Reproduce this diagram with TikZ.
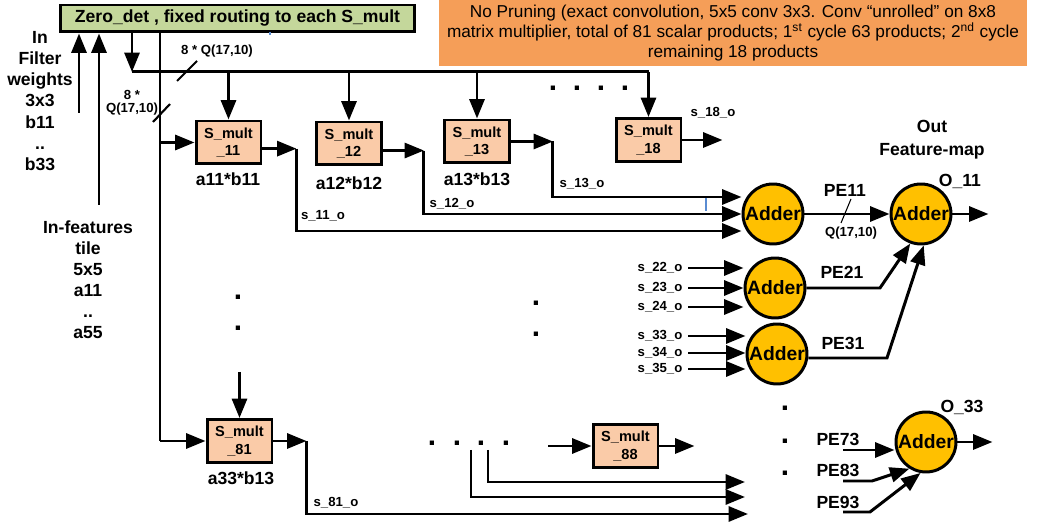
\documentclass[tikz,border=0pt]{standalone}
\usepackage{fontspec}
\setmainfont{Liberation Sans}
\usepackage{tikz}
\usetikzlibrary{positioning}
\usetikzlibrary{arrows.meta,shapes}
\usetikzlibrary{calc}

\definecolor{detgreen}{RGB}{196,215,155}
\definecolor{noteorange}{RGB}{245,158,88}
\definecolor{multpeach}{RGB}{250,203,168}
\definecolor{addergold}{RGB}{255,192,0}
\definecolor{strayblue}{RGB}{90,140,210}

\begin{document}
\begin{tikzpicture}[x=0.02cm,y=-0.02cm,
  wire/.style={line width=1.7pt},
  arr/.style={line width=1.7pt,-{Triangle[length=11pt,width=8.5pt]}},
  smult/.style={draw,line width=1.7pt,fill=multpeach,minimum width=1.3cm,minimum height=0.86cm,inner sep=0pt,align=center,font=\fontsize{8.3}{10}\selectfont\bfseries},
  adder/.style={circle,draw,line width=1.7pt,fill=addergold,minimum size=1.2cm,inner sep=0pt,font=\fontsize{11}{12}\selectfont\bfseries},
  lbl/.style={inner sep=0pt,font=\fontsize{10}{12}\selectfont\bfseries},
  dotm/.style={inner sep=0pt,font=\fontsize{17}{17}\selectfont\bfseries},
  sig/.style={inner sep=0pt,font=\fontsize{7.5}{8.5}\selectfont\bfseries}]
\useasboundingbox (0,0) rectangle (1046,526);

%control box and note
\node[draw,line width=1.7pt,fill=detgreen,minimum width=7.1cm,minimum height=0.54cm,inner sep=0pt,font=\fontsize{10}{12}\selectfont\bfseries] (zd) at (237.5,18.5) {Zero\_det , fixed routing to each S\_mult};
\node[fill=noteorange,minimum width=11.76cm,minimum height=1.32cm,inner sep=0pt,align=center,font=\fontsize{9.8}{11.6}\selectfont] (note) at (733,33) {No Pruning (exact convolution, 5x5 conv 3x3. Conv “unrolled” on 8x8\\matrix multiplier, total of 81 scalar products; 1\textsuperscript{st} cycle 63 products; 2\textsuperscript{nd} cycle\\remaining 18 products};

\node[lbl,align=center] (fw) at (40,101) {In\\Filter\\weights\\3x3\\b11\\..\\b33};
\node[lbl,align=center] (ft) at (88,280) {In-features\\tile\\5x5\\a11\\..\\a55};

\coordinate (wIn) at (79,113);
\coordinate (fIn) at (99,205);
\draw[arr] (wIn) -- (wIn |- zd.south);
\draw[arr] (fIn) -- (fIn |- zd.south);

%multipliers
\node[smult] (m11) at (228.5,142.5) {S\_mult\\\_11};
\node[smult] (m12) at (349,143.5) {S\_mult\\\_12};
\node[smult] (m13) at (477,141.5) {S\_mult\\\_13};
\node[smult] (m18) at (648.5,140) {S\_mult\\\_18};
\node[smult] (m81) at (239.5,441) {S\_mult\\\_81};
\node[smult] (m88) at (625.5,446) {S\_mult\\\_88};

\node[lbl] (p11) at (228,179) {a11*b11};
\node[lbl] (p12) at (349,183) {a12*b12};
\node[lbl] (p13) at (477,179) {a13*b13};
\node[lbl] (p81) at (241,478) {a33*b13};

%routing buses
\coordinate (hb) at (132,72);
\coordinate (vb) at (160,441);
\draw[arr] (zd.south -| hb) -- (hb);
\draw[wire] (hb) -- (hb -| m18.north);
\draw[wire] (zd.south -| vb) -- (vb);
\draw[arr] (vb) -- (m81.west);
\draw[arr] (m11.west -| vb) -- (m11.west);
\draw[arr] (hb -| m11.north) -- (m11.north);
\draw[arr] (hb -| m12.north) -- (m12.north);
\draw[arr] (hb -| m13.north) -- (m13.north);
\draw[arr] (hb -| m18.north) -- (m18.north);

\draw[line width=1.2pt] (153,122) -- (170,104);
\draw[line width=1.2pt] (177,81) -- (197,61);
\node[sig] (qh) at (217,51) {8 * Q(17,10)};
\node[sig,align=center,font=\fontsize{7.5}{7.5}\selectfont\bfseries] (qv) at (132,103) {8 *\\Q(17,10)};

\node[dotm] (dt1) at (553,88) {.};
\node[dotm] (dt2) at (577,88) {.};
\node[dotm] (dt3) at (601,88) {.};
\node[dotm] (dt4) at (625,88) {.};
\node[dotm] (dl1) at (238,297) {.};
\node[dotm] (dl2) at (238,328) {.};
\node[dotm] (dm1) at (536,303) {.};
\node[dotm] (dm2) at (536,334) {.};

%first row adder
\node[adder] (a1) at (773,214) {Adder};
\draw[arr] ([yshift=-3.5pt]m11.east) -- ++(34,0) coordinate (t11);
\draw[arr] ([yshift=-4pt]m12.east) -- ++(41,0) coordinate (t12);
\draw[arr] (m13.east) -- ++(42,0) coordinate (t13);
\draw[arr] (m18.east) -- ++(40,0) coordinate (t18);
\draw[arr] (t11) |- ($(a1.west)+(0,17)$);
\draw[arr] (t12) |- (a1.west);
\draw[arr] (t13) |- ($(a1.west)+(0,-17)$);
\node[sig] (s11) at (323,216) {s\_11\_o};
\node[sig] (s12) at (452,204) {s\_12\_o};
\node[sig] (s13) at (582,184) {s\_13\_o};
\node[sig] (s18) at (713,113) {s\_18\_o};
\draw[strayblue,line width=0.6pt] (706,198) -- (706,211);
\draw[strayblue,line width=0.6pt] (270,32) -- (270,35);

%second and third row adders
\node[adder] (a2) at (775,288) {Adder};
\node[adder] (a3) at (777,354) {Adder};
\coordinate (i22) at (688,268);
\coordinate (i23) at (688,288);
\coordinate (i24) at (688,307);
\coordinate (i33) at (688,336);
\coordinate (i34) at (688,353);
\coordinate (i35) at (688,369);
\draw[arr] (i22) -- (i22 -| a2.west);
\draw[arr] (i23) -- (i23 -| a2.west);
\draw[arr] (i24) -- (i24 -| a2.west);
\draw[arr] (i33) -- (i33 -| a3.west);
\draw[arr] (i34) -- (i34 -| a3.west);
\draw[arr] (i35) -- (i35 -| a3.west);
\node[sig,anchor=east] (s22) at ([xshift=-3pt]i22) {s\_22\_o};
\node[sig,anchor=east] (s23) at ([xshift=-3pt]i23) {s\_23\_o};
\node[sig,anchor=east] (s24) at ([xshift=-3pt]i24) {s\_24\_o};
\node[sig,anchor=east] (s33) at ([xshift=-3pt]i33) {s\_33\_o};
\node[sig,anchor=east] (s34) at ([xshift=-3pt]i34) {s\_34\_o};
\node[sig,anchor=east] (s35) at ([xshift=-3pt]i35) {s\_35\_o};

%output adders
\node[adder] (o11) at (921,214) {Adder};
\node[adder] (o33) at (926,442) {Adder};
\node[lbl,align=center,font=\fontsize{10}{13}\selectfont\bfseries] (ofm) at (932,140) {Out\\Feature-map};
\node[lbl] (lo11) at (960,181) {O\_11};
\node[lbl] (lo33) at (962,407) {O\_33};
\draw[arr] (a1.east) -- (o11.west);
\draw[arr] (o11.east) -- ++(36,0);
\draw[arr] (o33.east) -- ++(35,0);
\draw[line width=0.6pt] (851,199) -- (841,223);
\node[lbl] (pe11) at (845,190) {PE11};
\node[sig] (q11) at (851,233) {Q(17,10)};

\coordinate (k21) at (880,288);
\coordinate (k31) at (887,358);
\draw[arr] (a2.east) -- (a2.east -| k21) -- (o11.250);
\draw[arr] (k31 -| a3.east) -- (k31) -- (o11.275);
\node[lbl] (pe21) at (842,272) {PE21};
\node[lbl] (pe31) at (843,343) {PE31};

\node[dotm] (dr1) at (785,408) {.};
\node[dotm] (dr2) at (785,441) {.};
\node[dotm] (dr3) at (785,473) {.};
\node[lbl] (pe73) at (838,439) {PE73};
\node[lbl] (pe83) at (838,470) {PE83};
\node[lbl] (pe93) at (838,502) {PE93};
\coordinate (i73) at (843,450);
\coordinate (i83) at (843,481);
\coordinate (i93) at (843,512);
\draw[arr] (i73) -- (i73 -| o33.west);
\draw[arr] (i83) -- ++(29,0) -- (o33.238);
\draw[arr] (i93) -- ++(27,0) -- (o33.260);

%last row
\coordinate (d81) at (239.5,372);
\draw[arr] (d81) -- (m81.north);
\draw[arr] (m81.east) -- ++(33,0) coordinate (t81);
\coordinate (e81) at (748,514);
\coordinate (e82) at (745,497);
\coordinate (e83) at (745,482);
\coordinate (b82) at (471,450);
\coordinate (b83) at (488,450);
\draw[arr] (t81) |- (e81);
\draw[arr] (b82) |- (e82);
\draw[arr] (b83) |- (e83);
\node[sig] (s81) at (336,503) {s\_81\_o};
\node[dotm] (db1) at (432,443) {.};
\node[dotm] (db2) at (457,443) {.};
\node[dotm] (db3) at (481,443) {.};
\node[dotm] (db4) at (506,443) {.};
\coordinate (i88) at (548,446);
\draw[arr] (i88) -- (m88.west);
\draw[arr] (m88.east) -- ++(35,0);
\end{tikzpicture}
\end{document}
